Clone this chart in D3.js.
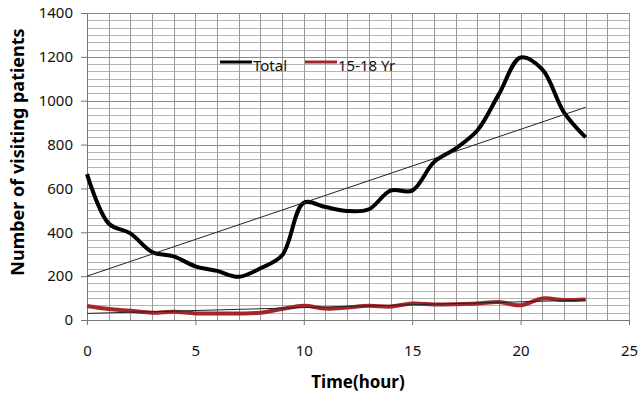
<!DOCTYPE html>
<html>
<head>
<meta charset="utf-8">
<script src="https://cdn.jsdelivr.net/npm/d3@7"></script>
<style>
  body { margin: 0; background: #fff; }
  svg { display: block; font-family: "Noto Sans", "Open Sans", sans-serif; }
</style>
</head>
<body>
<div id="chart"></div>
<script>
// data
const hours = [0, 1, 2, 3, 4, 5, 6, 7, 8, 9, 10, 11, 12, 13, 14, 15, 16, 17, 18, 19, 20, 21, 22, 23];
const total = [665, 440, 395, 310, 290, 245, 224, 197, 236, 295, 535, 515, 497, 505, 590, 590, 720, 782, 864, 1030, 1197, 1143, 947, 833];
const teen = [64, 50, 42, 33, 38, 30, 30, 30, 33, 50, 65, 52, 57, 65, 61, 75, 71, 72, 75, 82, 67, 98, 91, 94];
// linear trend lines (end points)
const trendHours = [0, 23];
const totalTrend = [200, 970];
const teenTrend = [30, 91];
const xTicks = [0, 5, 10, 15, 20, 25];
const yTicks = [0, 200, 400, 600, 800, 1000, 1200, 1400];
const seriesNames = ["Total", "15-18 Yr"];

function chart() {
  const W = 640, H = 396;
  const margin = { top: 13, right: 11, bottom: 76, left: 87 };
  const width = W - margin.left - margin.right;
  const height = H - margin.top - margin.bottom;

  const svg = d3.select("#chart").append("svg")
    .attr("width", W)
    .attr("height", H);

  const g = svg.append("g")
    .attr("transform", `translate(${margin.left},${margin.top})`);

  const x = d3.scaleLinear().domain([0, 25]).range([0, width]);
  const y = d3.scaleLinear().domain([0, 1400]).range([height, 0]);

  // 補助目盛線 (minor horizontal grid, 6 per major)
  const minor = d3.range(0, 1400 + 1e-6, 200 / 6);
  g.append("g").selectAll("line")
    .data(minor)
    .join("line")
    .attr("x1", 0).attr("x2", width)
    .attr("y1", d => Math.round(y(d)) + 0.5)
    .attr("y2", d => Math.round(y(d)) + 0.5)
    .attr("stroke", "#b4b4b4");

  // vertical grid every hour
  g.append("g").selectAll("line")
    .data(d3.range(1, 26))
    .join("line")
    .attr("y1", 0).attr("y2", height)
    .attr("x1", d => Math.round(x(d)) + 0.5)
    .attr("x2", d => Math.round(x(d)) + 0.5)
    .attr("stroke", "#9a9a9a");

  // major horizontal grid
  g.append("g").selectAll("line")
    .data(yTicks.slice(1))
    .join("line")
    .attr("x1", 0).attr("x2", width)
    .attr("y1", d => Math.round(y(d)) + 0.5)
    .attr("y2", d => Math.round(y(d)) + 0.5)
    .attr("stroke", "#8c8c8c");

  // axes
  const xAxis = g.append("g")
    .attr("transform", `translate(0,${height})`)
    .call(d3.axisBottom(x).tickValues(xTicks).tickFormat(d3.format("d")).tickSize(5).tickPadding(20));
  const yAxis = g.append("g")
    .call(d3.axisLeft(y).tickValues(yTicks).tickFormat(d3.format("d")).tickSize(6).tickPadding(8));

  [xAxis, yAxis].forEach(a => {
    a.select(".domain").attr("stroke", "#777");
    a.selectAll(".tick line").attr("stroke", "#777");
    a.selectAll(".tick text")
      .attr("fill", "#111")
      .style("font-size", "15px")
      .style("font-family", "'Noto Sans', sans-serif");
  });

  const line = d3.line()
    .x((d, i) => x(hours[i]))
    .y(d => y(d))
    .curve(d3.curveCatmullRom.alpha(0.5));

  const straight = d3.line()
    .x((d, i) => x(trendHours[i]))
    .y(d => y(d));

  // series
  g.append("path")
    .datum(teen)
    .attr("fill", "none")
    .attr("stroke", "#a3262a")
    .attr("stroke-width", 4)
    .attr("d", line);

  g.append("path")
    .datum(total)
    .attr("fill", "none")
    .attr("stroke", "#000")
    .attr("stroke-width", 4)
    .attr("d", line);

  // trend lines
  [totalTrend, teenTrend].forEach(t => {
    g.append("path")
      .datum(t)
      .attr("fill", "none")
      .attr("stroke", "#222")
      .attr("stroke-width", 1)
      .attr("d", straight);
  });

  // legend
  const legendColors = ["#000", "#a3262a"];
  const legend = svg.selectAll(".legend")
    .data(seriesNames)
    .join("g")
    .attr("class", "legend")
    .attr("transform", (d, i) => `translate(${220 + i * 85},62)`);

  legend.append("line")
    .attr("x1", 0).attr("x2", 32)
    .attr("stroke", (d, i) => legendColors[i])
    .attr("stroke-width", 3);

  legend.append("text")
    .attr("x", 33)
    .attr("y", 9)
    .style("font-size", "15px")
    .attr("fill", "#111")
    .text(d => d);

  // axis titles
  svg.append("text")
    .attr("x", margin.left + x(12.5))
    .attr("y", 388)
    .attr("text-anchor", "middle")
    .style("font-size", "17px")
    .style("font-weight", "bold")
    .text("Time(hour)");

  svg.append("text")
    .attr("transform", `translate(24,152) rotate(-90)`)
    .attr("text-anchor", "middle")
    .style("font-size", "18px")
    .style("font-weight", "bold")
    .text("Number of visiting patients");
}
chart();
</script>
</body>
</html>
